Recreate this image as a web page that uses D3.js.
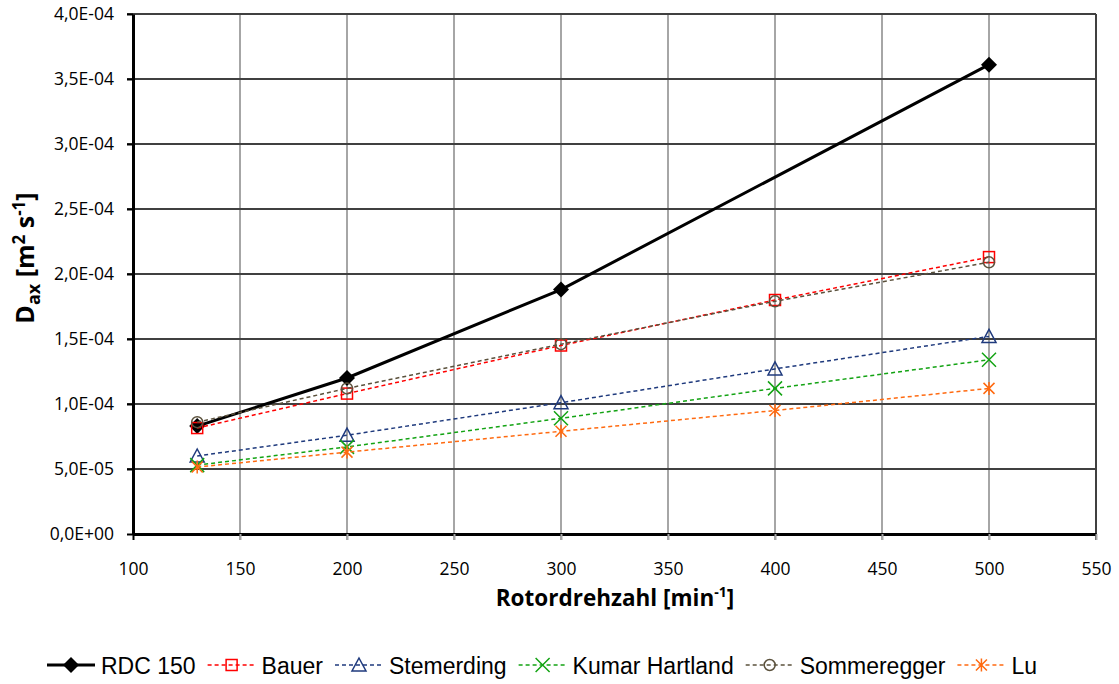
<!DOCTYPE html>
<html>
<head>
<meta charset="utf-8">
<script src="https://cdn.jsdelivr.net/npm/d3@7"></script>
<style>
  body { margin: 0; background: #fff; }
  svg { display: block; }
</style>
</head>
<body>
<div id="chart"></div>
<script>
// ── data ─────────────────────────────────────────────
const speedsAll = [130, 200, 300, 400, 500];
const speedsRdc = [130, 200, 300, 500];
const rdc150      = [8.3e-5, 1.20e-4, 1.88e-4, 3.61e-4];
const bauer       = [8.15e-5, 1.08e-4, 1.45e-4, 1.80e-4, 2.13e-4];
const stemerding  = [6.0e-5, 7.6e-5, 1.01e-4, 1.27e-4, 1.52e-4];
const kumar       = [5.3e-5, 6.7e-5, 8.9e-5, 1.12e-4, 1.34e-4];
const sommeregger = [8.6e-5, 1.12e-4, 1.46e-4, 1.79e-4, 2.09e-4];
const lu          = [5.15e-5, 6.3e-5, 7.9e-5, 9.5e-5, 1.12e-4];

const xTickValues = [100, 150, 200, 250, 300, 350, 400, 450, 500, 550];
const yTickValues = [0, 5e-5, 1e-4, 1.5e-4, 2e-4, 2.5e-4, 3e-4, 3.5e-4, 4e-4];
const yTickLabels = ['0,0E+00', '5,0E-05', '1,0E-04', '1,5E-04', '2,0E-04',
                     '2,5E-04', '3,0E-04', '3,5E-04', '4,0E-04'];

const series = [
  { name: 'RDC 150',     xs: speedsRdc, ys: rdc150,      color: '#000000', marker: 'diamond',  solid: true },
  { name: 'Bauer',       xs: speedsAll, ys: bauer,       color: '#ff0000', marker: 'square' },
  { name: 'Stemerding',  xs: speedsAll, ys: stemerding,  color: '#1f3a7d', marker: 'triangle' },
  { name: 'Kumar Hartland', xs: speedsAll, ys: kumar,    color: '#13a313', marker: 'cross' },
  { name: 'Sommeregger', xs: speedsAll, ys: sommeregger, color: '#5b513c', marker: 'circle' },
  { name: 'Lu',          xs: speedsAll, ys: lu,          color: '#ff6a10', marker: 'star' }
];

// ── layout ───────────────────────────────────────────
const W = 1119, H = 684;
const plot = { left: 133, top: 14, right: 1096, bottom: 534 };
const tickFont = '"Open Sans", sans-serif';

const svg = d3.select('#chart').append('svg')
  .attr('width', W).attr('height', H)
  .attr('viewBox', [0, 0, W, H]);

const x = d3.scaleLinear().domain([100, 550]).range([plot.left, plot.right]);
const y = d3.scaleLinear().domain([0, 4e-4]).range([plot.bottom, plot.top]);

// vertical grid (light)
svg.append('g').selectAll('line')
  .data(xTickValues.slice(1, -1))
  .join('line')
    .attr('x1', d => x(d)).attr('x2', d => x(d))
    .attr('y1', plot.top).attr('y2', plot.bottom + 6)
    .attr('stroke', '#a6a6a6').attr('stroke-width', 2);

// horizontal grid (dark)
svg.append('g').selectAll('line')
  .data(yTickValues.slice(1))
  .join('line')
    .attr('x1', plot.left - 6).attr('x2', plot.right)
    .attr('y1', d => y(d)).attr('y2', d => y(d))
    .attr('stroke', '#404040').attr('stroke-width', 2);

// right border
svg.append('line')
  .attr('x1', plot.right).attr('x2', plot.right)
  .attr('y1', plot.top).attr('y2', plot.bottom + 6)
  .attr('stroke', '#404040').attr('stroke-width', 2);

// axes
const xAxis = svg.append('g')
  .attr('transform', `translate(0,${plot.bottom})`)
  .call(d3.axisBottom(x).tickValues(xTickValues).tickSize(6).tickSizeOuter(0).tickPadding(23));
const yAxis = svg.append('g')
  .attr('transform', `translate(${plot.left},0)`)
  .call(d3.axisLeft(y).tickValues(yTickValues).tickSize(6).tickSizeOuter(0).tickPadding(13)
    .tickFormat((d, i) => yTickLabels[i]));

[xAxis, yAxis].forEach(a => {
  a.select('.domain').attr('stroke', '#000').attr('stroke-width', 3);
  a.selectAll('.tick line').attr('stroke', '#000').attr('stroke-width', 2);
  a.selectAll('.tick text')
    .attr('fill', '#000')
    .style('font-family', tickFont)
    .style('font-size', '17.5px');
});
xAxis.selectAll('.tick line').filter(d => d !== 100).attr('stroke', '#a6a6a6');

// ── marker drawing ──────────────────────────────────
function drawMarker(g, type, color) {
  switch (type) {
    case 'diamond':
      g.append('path').attr('d', 'M0,-8L8,0L0,8L-8,0Z').attr('fill', color);
      break;
    case 'square':
      g.append('rect').attr('x', -5.5).attr('y', -5.5).attr('width', 11).attr('height', 11)
        .attr('fill', 'none').attr('stroke', color).attr('stroke-width', 1.5);
      break;
    case 'triangle':
      g.append('path').attr('d', 'M0,-7L7,6L-7,6Z')
        .attr('fill', 'none').attr('stroke', color).attr('stroke-width', 1.5);
      break;
    case 'cross':
      g.append('path').attr('d', 'M-7,-7L7,7M-7,7L7,-7')
        .attr('stroke', color).attr('stroke-width', 1.5);
      break;
    case 'circle':
      g.append('circle').attr('r', 5.5)
        .attr('fill', 'none').attr('stroke', color).attr('stroke-width', 1.5);
      break;
    case 'star':
      g.append('path').attr('d', 'M-5.5,-5.5L5.5,5.5M-5.5,5.5L5.5,-5.5M0,-6.5L0,6.5')
        .attr('stroke', color).attr('stroke-width', 1.5);
      break;
  }
}

// ── series ───────────────────────────────────────────
const line = d3.line().x(d => x(d[0])).y(d => y(d[1]));

series.forEach(s => {
  const pts = s.xs.map((v, i) => [v, s.ys[i]]);
  const g = svg.append('g');
  g.append('path')
    .datum(pts)
    .attr('d', line)
    .attr('fill', 'none')
    .attr('stroke', s.color)
    .attr('stroke-width', s.solid ? 3 : 1.5)
    .attr('stroke-dasharray', s.solid ? null : '4,3');
  g.selectAll('g.m')
    .data(pts)
    .join('g')
      .attr('class', 'm')
      .attr('transform', d => `translate(${x(d[0])},${y(d[1])})`)
      .each(function () { drawMarker(d3.select(this), s.marker, s.color); });
});

// ── axis titles ──────────────────────────────────────
const xTitle = svg.append('text')
  .attr('x', 615)
  .attr('y', 606)
  .attr('text-anchor', 'middle')
  .style('font-family', tickFont)
  .style('font-weight', 'bold')
  .style('font-size', '22.5px')
  .attr('fill', '#000');
xTitle.append('tspan').text('Rotordrehzahl [min');
xTitle.append('tspan').attr('dy', -9).style('font-size', '14px').text('-1');
xTitle.append('tspan').attr('dy', 9).text(']');

const yTitle = svg.append('text')
  .attr('transform', `translate(34,258) rotate(-90)`)
  .attr('text-anchor', 'middle')
  .style('font-family', tickFont)
  .style('font-weight', 'bold')
  .style('font-size', '25px')
  .attr('fill', '#000');
yTitle.append('tspan').text('D');
yTitle.append('tspan').attr('dy', 6).style('font-size', '18px').text('ax');
yTitle.append('tspan').attr('dy', -6).text(' [m');
yTitle.append('tspan').attr('dy', -9).style('font-size', '17px').text('2');
yTitle.append('tspan').attr('dy', 9).text(' s');
yTitle.append('tspan').attr('dy', -9).style('font-size', '17px').text('-1');
yTitle.append('tspan').attr('dy', 9).text(']');

// ── legend ───────────────────────────────────────────
const legend = svg.append('g').attr('transform', 'translate(47,665)');
let cursor = 0;
series.forEach(s => {
  const item = legend.append('g').attr('transform', `translate(${cursor},0)`);
  item.append('line')
    .attr('x1', 0).attr('x2', 48).attr('y1', 0).attr('y2', 0)
    .attr('stroke', s.color)
    .attr('stroke-width', s.solid ? 3 : 1.5)
    .attr('stroke-dasharray', s.solid ? null : '4,3');
  const m = item.append('g').attr('transform', 'translate(24,0)');
  drawMarker(m, s.marker, s.color);
  const t = item.append('text')
    .attr('x', 54).attr('y', 9)
    .style('font-family', '"Liberation Sans", Arial, sans-serif')
    .style('font-size', '23px')
    .attr('fill', '#000')
    .text(s.name);
  cursor += 54 + t.node().getComputedTextLength() + 12;
});
</script>
</body>
</html>
